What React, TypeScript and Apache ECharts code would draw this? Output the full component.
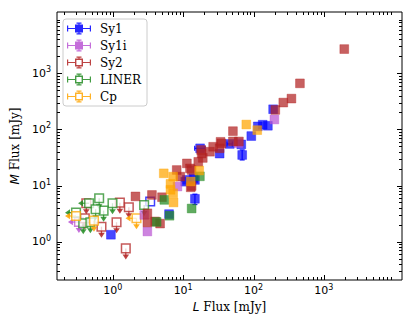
import React, { useEffect, useRef } from 'react';
import * as echarts from 'echarts';

const X_MIN = 0.161;
const X_MAX = 12900;
const Y_MIN = 0.208;
const Y_MAX = 12300;

const categories = ['Sy1', 'Sy1i', 'Sy2', 'LINER', 'Cp'];
const colors = ['#0000ff', '#ba55d3', '#b22222', '#228b22', '#ffa500'];
const rgb = ['0,0,255', '186,85,211', '178,34,34', '34,139,34', '255,165,0'];

// Detections: [L flux, M flux]
const sy1Points = [
  [190, 228], [135, 121], [115, 113], [160, 116], [93, 76], [69, 35], [67, 54], [46, 55], [33, 37],
  [17.4, 46], [14, 13.5], [11.3, 12.6], [14.7, 12.6], [10.7, 11.7], [14.7, 5.8], [6.3, 3.1], [0.94, 1.33],
];
const sy1iPoints = [[198, 150], [61, 57], [8.3, 9.6], [3.1, 1.52], [2.8, 3.0]];
const sy2Points = [
  [1950, 2690], [457, 660], [346, 353], [265, 300], [204, 222], [51, 93], [34, 60], [51, 61], [62, 61],
  [26.7, 49], [33, 46], [35, 56], [24, 40], [18.3, 37], [19, 31], [18, 43], [16.4, 26.4], [11.3, 24.8],
  [12.5, 20.2], [13.2, 18.9], [8.1, 18.9], [9.1, 14.4], [12.8, 9.3], [13.2, 9.8], [3.6, 6.8], [5.0, 6.2],
  [2.1, 6.4], [3.1, 3.2], [3.1, 2.2], [4.0, 2.3], [4.7, 2.1],
];
const linerPoints = [[5.4, 5.55], [4.2, 2.25], [6.4, 2.9], [13.2, 3.9], [17.3, 14.6]];
const cpPoints = [
  [79, 122], [113, 97], [5.3, 16.5], [7.2, 14.4], [6.6, 10.7], [7.2, 7.3], [7.3, 5.0], [12.8, 11.8],
  [16.9, 18.5], [6.6, 8.4],
];

// Upper limits: [L, M, kind]  kind 0 = M limit (down arrow), 1 = L limit (left arrow), 2 = both, 3 = none
const sy1Limits = [[3.4, 5.2, 3]];
const sy1iLimits = [[0.33, 2.24, 2]];
const sy2Limits = [[0.42, 4.84, 0], [1.26, 4.96, 0], [1.69, 4.1, 0], [1.13, 2.22, 0], [0.69, 1.85, 0], [1.53, 0.76, 0], [0.40, 2.6, 0]];
const linerLimits = [
  [0.64, 5.93, 0], [0.99, 4.84, 0], [0.46, 4.84, 1], [0.74, 3.57, 0], [0.57, 3.78, 0], [0.30, 3.29, 1],
  [0.38, 2.13, 0], [0.48, 2.22, 0], [2.79, 4.5, 0],
];
const cpLimits = [[0.30, 2.87, 1], [0.54, 2.37, 0], [2.17, 2.61, 2]];

// Error bars: [L, M, Llo, Lhi, Mlo, Mhi]
const sy1ErrorBars = [
  [69, 35, 69, 69, 28.6, 43], [14.7, 5.8, 14.7, 14.7, 4.6, 7.0], [17.4, 46, 14.6, 20.5, 46, 46], [46, 55, 42, 50, 55, 55],
];

const pointsByCat = [sy1Points, sy1iPoints, sy2Points, linerPoints, cpPoints];
const limitsByCat = [sy1Limits, sy1iLimits, sy2Limits, linerLimits, cpLimits];

const majorTicks = [1, 10, 100, 1000];
const tickDecades = [0.1, 1, 10, 100, 1000];
const minorSteps = [2, 3, 4, 5, 6, 7, 8, 9];

const ICON_FILLED =
  'path://M8 2h8v8H8z M0 5.4h24v1.2H0z M0 3h1.2v6H0z M22.8 3h1.2v6h-1.2z M11.4 0h1.2v12h-1.2z M9.5 0h5v1.2h-5z M9.5 10.8h5V12h-5z';
const ICON_OPEN =
  'path://M8 2h8v8H8z M9.4 3.4v5.2h5.2V3.4z M0 5.4h8v1.2H0z M16 5.4h8v1.2H16z M0 3h1.2v6H0z M22.8 3h1.2v6h-1.2z M11.4 0h1.2v2h-1.2z M11.4 10h1.2v2h-1.2z M9.5 0h5v1.2h-5z M9.5 10.8h5V12h-5z';

function buildTickData() {
  const d: number[][] = [];
  for (const m of majorTicks) {
    d.push([m, 1, 0, 1]);
    d.push([1, m, 1, 1]);
  }
  for (const dec of tickDecades) {
    for (const s of minorSteps) {
      const v = dec * s;
      if (v > X_MIN && v < X_MAX) d.push([v, 1, 0, 0]);
      if (v > Y_MIN && v < Y_MAX) d.push([1, v, 1, 0]);
    }
  }
  return d;
}

const pix = (v: number) => Math.round(v) + 0.5;

function tickRender(params: any, api: any) {
  const kind = api.value(2);
  const major = api.value(3);
  const len = major ? 5 : 3;
  const style = { stroke: '#000', lineWidth: 1 };
  if (kind === 0) {
    const v = api.value(0);
    const b = api.coord([v, Y_MIN]);
    const t = api.coord([v, Y_MAX]);
    const x = pix(b[0]);
    return {
      type: 'group',
      children: [
        { type: 'line', shape: { x1: x, y1: b[1], x2: x, y2: b[1] - len }, style },
        { type: 'line', shape: { x1: x, y1: t[1], x2: x, y2: t[1] + len }, style },
      ],
    };
  }
  const v = api.value(1);
  const l = api.coord([X_MIN, v]);
  const r = api.coord([X_MAX, v]);
  const y = pix(l[1]);
  return {
    type: 'group',
    children: [
      { type: 'line', shape: { x1: l[0], y1: y, x2: l[0] + len, y2: y }, style },
      { type: 'line', shape: { x1: r[0], y1: y, x2: r[0] - len, y2: y }, style },
    ],
  };
}

function limitRender(ci: number) {
  const color = colors[ci];
  return (params: any, api: any) => {
    const p = api.coord([api.value(0), api.value(1)]);
    const kind = api.value(2);
    const cx = p[0];
    const cy = p[1];
    const L = 11;
    const children: any[] = [];
    if (kind === 0 || kind === 2) {
      children.push({ type: 'line', shape: { x1: cx, y1: cy, x2: cx, y2: cy + L - 3 }, style: { stroke: color, lineWidth: 1.3, opacity: 0.8 } });
      children.push({ type: 'polygon', shape: { points: [[cx - 3.3, cy + L - 5], [cx + 3.3, cy + L - 5], [cx, cy + L]] }, style: { fill: color, opacity: 0.85 } });
    }
    if (kind === 1 || kind === 2) {
      children.push({ type: 'line', shape: { x1: cx, y1: cy, x2: cx - L + 3, y2: cy }, style: { stroke: color, lineWidth: 1.3, opacity: 0.8 } });
      children.push({ type: 'polygon', shape: { points: [[cx - L + 5, cy - 3.3], [cx - L + 5, cy + 3.3], [cx - L, cy]] }, style: { fill: color, opacity: 0.85 } });
    }
    children.push({
      type: 'rect',
      shape: { x: cx - 4.3, y: cy - 4.3, width: 8.6, height: 8.6 },
      style: { fill: 'rgba(255,255,255,0.75)', stroke: `rgba(${rgb[ci]},0.75)`, lineWidth: 1.5 },
    });
    return { type: 'group', children };
  };
}

function errRender(params: any, api: any) {
  const x = api.value(0), y = api.value(1);
  const xl = api.value(2), xh = api.value(3), yl = api.value(4), yh = api.value(5);
  const style = { stroke: 'rgba(0,0,255,0.9)', lineWidth: 1.3 };
  const children: any[] = [];
  if (xl !== xh) {
    const a = api.coord([xl, y]);
    const b = api.coord([xh, y]);
    children.push({ type: 'line', shape: { x1: a[0], y1: a[1], x2: b[0], y2: b[1] }, style });
    children.push({ type: 'line', shape: { x1: a[0], y1: a[1] - 2.5, x2: a[0], y2: a[1] + 2.5 }, style });
    children.push({ type: 'line', shape: { x1: b[0], y1: b[1] - 2.5, x2: b[0], y2: b[1] + 2.5 }, style });
  }
  if (yl !== yh) {
    const a = api.coord([x, yl]);
    const b = api.coord([x, yh]);
    children.push({ type: 'line', shape: { x1: a[0], y1: a[1], x2: b[0], y2: b[1] }, style });
    children.push({ type: 'line', shape: { x1: a[0] - 2.5, y1: a[1], x2: a[0] + 2.5, y2: a[1] }, style });
    children.push({ type: 'line', shape: { x1: b[0] - 2.5, y1: b[1], x2: b[0] + 2.5, y2: b[1] }, style });
  }
  return { type: 'group', children };
}

const isPow = (v: number) => {
  const lg = Math.log10(v);
  const r = Math.round(lg);
  return Math.abs(lg - r) < 1e-6 && r >= 0 && r <= 3;
};
const labelFmt = (v: number) => {
  if (!isPow(v)) return '';
  const r = Math.round(Math.log10(v));
  return `{b|10}{e|${r}}`;
};
const labelRich = {
  b: { fontFamily: 'DejaVu Sans', fontSize: 11, color: '#000', lineHeight: 15 },
  e: { fontFamily: 'DejaVu Sans', fontSize: 8, color: '#000', verticalAlign: 'top', lineHeight: 7 },
};

const SERIF = "'DejaVu Serif', serif";

export default function App() {
  const ref = useRef<HTMLDivElement>(null);
  useEffect(() => {
    if (!ref.current) return;
    const chart = echarts.init(ref.current, null, { renderer: 'svg' });
    const series: any[] = [];
    categories.forEach((c, i) => {
      if (i === 0) {
        series.push({
          name: c, type: 'custom', renderItem: errRender, data: sy1ErrorBars, z: 2,
          encode: { x: 0, y: 1 }, silent: true,
        });
      }
      series.push({
        name: c,
        type: 'scatter',
        data: pointsByCat[i],
        symbol: 'rect',
        symbolSize: 8.8,
        itemStyle: { color: `rgba(${rgb[i]},0.9)`, borderColor: `rgba(${rgb[i]},0.45)`, borderWidth: 1 },
        z: 3,
        silent: true,
      });
      series.push({
        name: c,
        type: 'custom',
        renderItem: limitRender(i),
        data: limitsByCat[i],
        encode: { x: 0, y: 1 },
        z: 3,
        silent: true,
      });
    });
    series.push({
      name: 'ticks', type: 'custom', renderItem: tickRender, data: buildTickData(),
      encode: { x: 0, y: 1 }, z: 5, silent: true,
    });
    chart.setOption({
      animation: false,
      backgroundColor: '#ffffff',
      grid: { left: 57, right: 13, top: 12, bottom: 52, show: true, borderColor: '#000', borderWidth: 1, backgroundColor: 'transparent' },
      xAxis: {
        type: 'log', logBase: 10, min: X_MIN, max: X_MAX,
        axisLine: { show: false }, axisTick: { show: false }, splitLine: { show: false },
        axisLabel: { formatter: labelFmt, rich: labelRich, margin: 3, showMinLabel: false, showMaxLabel: false },
        name: '{i|L} Flux [mJy]', nameLocation: 'middle', nameGap: 19,
        nameTextStyle: {
          fontFamily: SERIF, fontSize: 12, color: '#000',
          rich: { i: { fontFamily: 'DejaVu Sans', fontStyle: 'italic', fontSize: 12, color: '#000' } },
        },
      },
      yAxis: {
        type: 'log', logBase: 10, min: Y_MIN, max: Y_MAX,
        axisLine: { show: false }, axisTick: { show: false }, splitLine: { show: false },
        axisLabel: { formatter: labelFmt, rich: labelRich, margin: 6, showMinLabel: false, showMaxLabel: false },
        name: '{i|M} Flux [mJy]', nameLocation: 'middle', nameGap: 25,
        nameTextStyle: {
          fontFamily: SERIF, fontSize: 12, color: '#000',
          rich: { i: { fontFamily: 'DejaVu Sans', fontStyle: 'italic', fontSize: 12, color: '#000' } },
        },
      },
      legend: {
        orient: 'vertical', left: 63, top: 19,
        data: categories.map((c, i) => ({
          name: c, icon: i < 2 ? ICON_FILLED : ICON_OPEN,
          itemStyle: { color: colors[i], opacity: 0.85, borderWidth: 0 },
        })),
        itemWidth: 24, itemHeight: 12, itemGap: 4,
        textStyle: { fontFamily: SERIF, fontSize: 12, color: '#000', lineHeight: 13, padding: [0, 0, 0, 4] },
        padding: [3, 6, 3, 4],
        backgroundColor: 'rgba(255,255,255,0.8)', borderColor: '#cccccc', borderWidth: 1, borderRadius: 3,
        selectedMode: false,
      },
      series,
    });
    return () => chart.dispose();
  }, []);
  return <div ref={ref} style={{ position: 'fixed', left: 0, top: 0, width: 415, height: 332 }} />;
}
